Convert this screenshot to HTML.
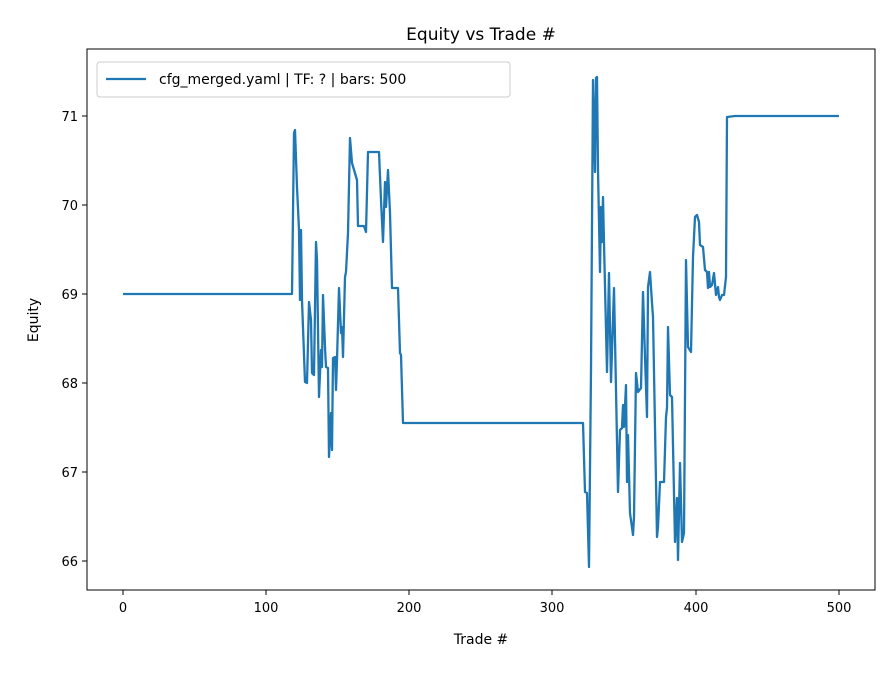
<!DOCTYPE html>
<html><head><meta charset="utf-8"><style>body{margin:0;background:#fff}</style></head><body>
<svg width="896" height="672" xmlns="http://www.w3.org/2000/svg" font-family="DejaVu Sans, Liberation Sans, sans-serif">
<rect width="896" height="672" fill="#fff"/>
<text x="481" y="40" font-size="17" text-anchor="middle" fill="#000">Equity vs Trade #</text>
<g stroke="#000" stroke-width="1">
<line x1="123" y1="590" x2="123" y2="595"/><line x1="266" y1="590" x2="266" y2="595"/><line x1="409" y1="590" x2="409" y2="595"/><line x1="552" y1="590" x2="552" y2="595"/><line x1="696" y1="590" x2="696" y2="595"/><line x1="839" y1="590" x2="839" y2="595"/>
<line x1="82" y1="561" x2="87" y2="561"/><line x1="82" y1="472" x2="87" y2="472"/><line x1="82" y1="383" x2="87" y2="383"/><line x1="82" y1="294" x2="87" y2="294"/><line x1="82" y1="205" x2="87" y2="205"/><line x1="82" y1="116" x2="87" y2="116"/>
</g>
<g font-size="13" fill="#000" text-anchor="middle">
<text x="123" y="612">0</text><text x="266" y="612">100</text><text x="409" y="612">200</text><text x="552" y="612">300</text><text x="696" y="612">400</text><text x="839" y="612">500</text>
</g>
<g font-size="13" fill="#000" text-anchor="end">
<text x="78" y="566">66</text><text x="78" y="477">67</text><text x="78" y="388">68</text><text x="78" y="299">69</text><text x="78" y="210">70</text><text x="78" y="121">71</text>
</g>
<text x="481" y="644" font-size="14" text-anchor="middle">Trade #</text>
<text x="38" y="320" font-size="14" text-anchor="middle" transform="rotate(-90 38 320)">Equity</text>
<polyline fill="none" stroke="#1f77b4" stroke-width="2.3" stroke-linejoin="round" points="123,294 292,294 294,133 295,130 297,187 299,230 300,300 301,230 302,300 305,382 307,383 309,302 311,320 312,373 314,375 316,242 317,260 319,397 321,350 322,367 323,295 325,347 326,367 328,368 329,457 331,413 332,450 333,358 335,357 336,390 337,360 339,288 341,333 342,327 343,357 345,277 346,272 348,233 350,138 352,163 357,180 358,226 364,226 366,232 368,152 379,152 381,200 383,242 385,182 386,207 388,170 390,213 392,288 398,288 400,353 401,355 403,423 583,423 585,492 587,493 589,567 591,370 593,80 595,172 596,78 597,77 598,170 600,272 601,207 602,242 603,197 604,243 607,372 609,273 611,382 614,288 618,492 620,430 622,428 623,405 624,427 626,385 627,482 628,435 630,513 633,535 634,517 636,373 638,392 641,388 643,292 645,357 647,417 648,287 650,272 652,303 653,317 657,537 658,527 660,482 664,482 666,417 667,408 668,327 670,395 672,397 675,542 677,498 678,560 680,463 682,542 684,533 686,260 688,347 691,352 693,257 695,217 697,215 699,222 700,245 703,247 705,270 707,272 708,288 709,272 710,287 712,285 714,273 716,295 718,287 719,297 720,300 722,295 724,295 726,277 727,117 735,116 839,116"/>
<rect x="87" y="49" width="788" height="541" fill="none" stroke="#000" stroke-width="1"/>
<rect x="97" y="62" width="413" height="35" rx="3" fill="#fff" fill-opacity="0.8" stroke="#ccc"/>
<line x1="106" y1="79" x2="146" y2="79" stroke="#1f77b4" stroke-width="2.3"/>
<text x="159" y="84" font-size="14">cfg_merged.yaml | TF: ? | bars: 500</text>
</svg>
</body></html>
